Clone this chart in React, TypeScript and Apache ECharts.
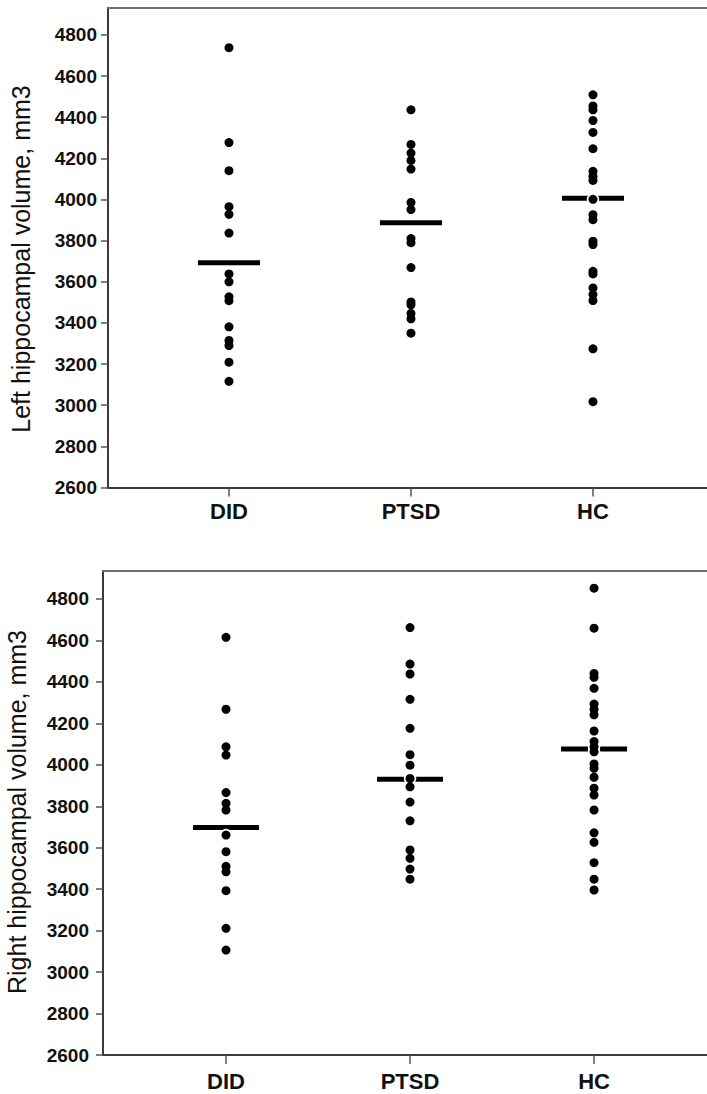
import React, { useEffect, useRef } from 'react';
import * as echarts from 'echarts';

const categories = ['DID', 'PTSD', 'HC'];
const yTickValues = [2600, 2800, 3000, 3200, 3400, 3600, 3800, 4000, 4200, 4400, 4600, 4800];

// Left hippocampal volume (mm3)
const leftDID = [4738, 4277, 4140, 3965, 3928, 3837, 3638, 3600, 3527, 3508, 3381, 3315, 3290, 3209, 3116];
const leftPTSD = [4436, 4268, 4226, 4190, 4148, 3986, 3951, 3810, 3790, 3669, 3502, 3488, 3446, 3420, 3350];
const leftHC = [4509, 4455, 4436, 4384, 4326, 4247, 4137, 4112, 4093, 4001, 3926, 3902, 3797, 3781, 3651, 3638, 3570, 3538, 3509, 3274, 3017];
const leftMeans = [3692, 3887, 4006];

// Right hippocampal volume (mm3)
const rightDID = [4615, 4268, 4087, 4047, 3866, 3814, 3782, 3661, 3581, 3510, 3484, 3393, 3211, 3106];
const rightPTSD = [4662, 4486, 4438, 4316, 4176, 4049, 3998, 3934, 3894, 3820, 3730, 3589, 3549, 3497, 3448];
const rightHC = [4852, 4659, 4441, 4422, 4369, 4293, 4268, 4241, 4163, 4112, 4087, 4063, 4004, 3983, 3940, 3887, 3854, 3782, 3672, 3626, 3528, 3448, 3396];
const rightMeans = [3698, 3930, 4076];

const FONT = '"Liberation Sans", Arial, sans-serif';

function toPoints(groups: number[][]) {
  const pts: number[][] = [];
  groups.forEach((g, i) => g.forEach((v) => pts.push([i + 1, v])));
  return pts;
}

function makeXAxis(gridIndex: number, min: number, max: number, margin: number) {
  return {
    gridIndex,
    type: 'value',
    position: 'bottom',
    min,
    max,
    axisLine: { show: true, onZero: false, lineStyle: { color: '#3a3a3a', width: 2 } },
    axisTick: { show: true, length: 9, customValues: [1, 2, 3], lineStyle: { color: '#555', width: 1.5 } },
    axisLabel: {
      customValues: [1, 2, 3],
      formatter: (v: number) => categories[Math.round(v) - 1] ?? '',
      fontFamily: FONT,
      fontWeight: 'bold',
      fontSize: 22,
      color: '#111',
      margin,
    },
    splitLine: { show: false },
  };
}

function makeTopFrame(gridIndex: number, min: number, max: number) {
  return {
    gridIndex,
    type: 'value',
    position: 'top',
    min,
    max,
    axisLine: { show: true, onZero: false, lineStyle: { color: '#6e6e6e', width: 2 } },
    axisTick: { show: false },
    axisLabel: { show: false },
    splitLine: { show: false },
  };
}

function makeYAxis(gridIndex: number, max: number, margin: number) {
  return {
    gridIndex,
    type: 'value',
    min: 2600,
    max,
    interval: 200,
    axisLine: { show: true, onZero: false, lineStyle: { color: '#3a3a3a', width: 2 } },
    axisTick: { show: true, length: 7, customValues: yTickValues, lineStyle: { color: '#555', width: 1.5 } },
    axisLabel: {
      customValues: yTickValues,
      formatter: (v: number) => (v % 200 === 0 && v <= 4800 ? String(v) : ''),
      fontFamily: FONT,
      fontWeight: 'bold',
      fontSize: 19,
      color: '#111',
      margin,
    },
    splitLine: { show: false },
  };
}

function panelSeries(idx: number, groups: number[][], means: number[], lineWidth: number) {
  const pts = toPoints(groups);
  return [
    {
      type: 'scatter',
      xAxisIndex: idx,
      yAxisIndex: idx,
      symbol: 'rect',
      symbolSize: [lineWidth, 5],
      data: means.map((m, i) => [i + 1, m]),
      itemStyle: { color: '#000', opacity: 1 },
      silent: true,
      z: 2,
    },
    {
      type: 'scatter',
      xAxisIndex: idx,
      yAxisIndex: idx,
      symbol: 'circle',
      symbolSize: 12.5,
      data: pts,
      itemStyle: { color: '#fff', opacity: 1 },
      silent: true,
      z: 3,
    },
    {
      type: 'scatter',
      xAxisIndex: idx,
      yAxisIndex: idx,
      symbol: 'circle',
      symbolSize: 9,
      data: pts,
      itemStyle: { color: '#000', opacity: 1 },
      silent: true,
      z: 4,
    },
  ];
}

export default function App() {
  const ref = useRef<HTMLDivElement>(null);
  useEffect(() => {
    if (!ref.current) return;
    const chart = echarts.init(ref.current, null, { renderer: 'svg' });
    chart.setOption({
      animation: false,
      backgroundColor: '#fff',
      grid: [
        { left: 108, top: 8, width: 604, height: 479.5, show: false, outerBoundsMode: 'none', containLabel: false },
        { left: 103, top: 571, width: 609, height: 484, show: false, outerBoundsMode: 'none', containLabel: false },
      ],
      xAxis: [
        makeXAxis(0, 0.3352, 3.654, 13),
        makeXAxis(1, 0.3315, 3.641, 15),
        makeTopFrame(0, 0.3352, 3.654),
        makeTopFrame(1, 0.3315, 3.641),
      ],
      yAxis: [makeYAxis(0, 4931, 11), makeYAxis(1, 4935, 14)],
      graphic: [
        {
          type: 'text',
          x: 21,
          y: 259,
          rotation: Math.PI / 2,
          style: {
            text: 'Left hippocampal volume, mm3',
            font: `25px ${FONT}`,
            fill: '#111',
            textAlign: 'center',
            textVerticalAlign: 'middle',
          },
        },
        {
          type: 'text',
          x: 17,
          y: 812,
          rotation: Math.PI / 2,
          style: {
            text: 'Right hippocampal volume, mm3',
            font: `25px ${FONT}`,
            fill: '#111',
            textAlign: 'center',
            textVerticalAlign: 'middle',
          },
        },
      ],
      series: [
        ...panelSeries(0, [leftDID, leftPTSD, leftHC], leftMeans, 62),
        ...panelSeries(1, [rightDID, rightPTSD, rightHC], rightMeans, 66),
      ],
    });
    return () => chart.dispose();
  }, []);
  return (
    <div style={{ position: 'fixed', left: 0, top: 0, width: 707, height: 1094, overflow: 'hidden', background: '#fff' }}>
      <div ref={ref} style={{ width: 740, height: 1094 }} />
    </div>
  );
}
